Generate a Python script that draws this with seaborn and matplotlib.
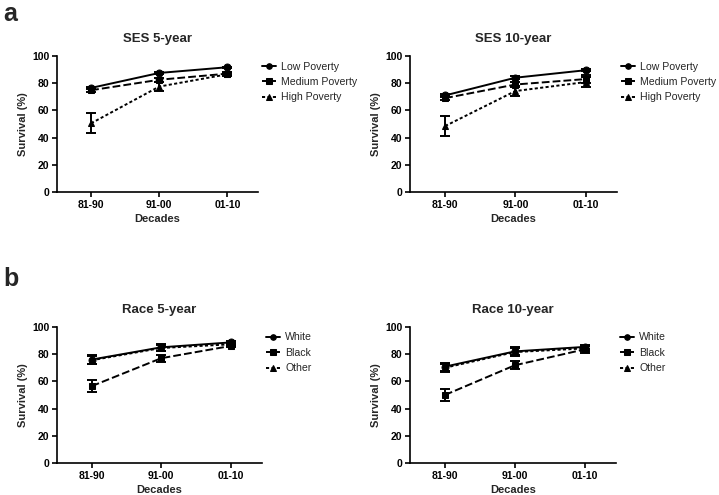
import matplotlib
matplotlib.use("Agg")
import matplotlib.pyplot as plt
import numpy as np
import pandas as pd
import seaborn as sns

DECADES = ["81-90", "91-00", "01-10"]

SES_GROUPS = ["Low Poverty", "Medium Poverty", "High Poverty"]
RACE_GROUPS = ["White", "Black", "Other"]

# SES 5-year survival (%) and error
SES5_LOW = [76.5, 87.5, 91.7]
SES5_MED = [74.8, 82.5, 87.0]
SES5_HIGH = [50.5, 77.5, 86.5]
SES5_LOW_ERR = [1.0, 1.0, 0.5]
SES5_MED_ERR = [1.5, 1.5, 1.2]
SES5_HIGH_ERR = [7.4, 3.0, 1.0]

# SES 10-year
SES10_LOW = [71.0, 84.0, 89.5]
SES10_MED = [69.0, 79.0, 83.0]
SES10_HIGH = [48.5, 74.2, 80.8]
SES10_LOW_ERR = [1.0, 1.0, 0.8]
SES10_MED_ERR = [1.5, 2.0, 3.0]
SES10_HIGH_ERR = [7.6, 3.5, 3.5]

# Race 5-year
RACE5_WHITE = [76.0, 85.0, 88.6]
RACE5_BLACK = [56.5, 77.0, 86.0]
RACE5_OTHER = [75.5, 84.5, 87.2]
RACE5_WHITE_ERR = [3.0, 2.5, 1.0]
RACE5_BLACK_ERR = [4.5, 2.5, 1.0]
RACE5_OTHER_ERR = [3.0, 2.5, 1.0]

# Race 10-year
RACE10_WHITE = [70.8, 82.0, 85.3]
RACE10_BLACK = [50.0, 71.8, 83.5]
RACE10_OTHER = [70.0, 81.5, 84.2]
RACE10_WHITE_ERR = [3.0, 3.0, 1.5]
RACE10_BLACK_ERR = [4.5, 3.0, 2.5]
RACE10_OTHER_ERR = [3.0, 3.0, 2.0]

MARKERS = ["o", "s", "^"]
DASHES = ["", (4, 1.6), (1.6, 1.2)]


def make_frame(groups, values, errors):
    rows = []
    for group, vals, errs in zip(groups, values, errors):
        for decade, v, e in zip(DECADES, vals, errs):
            rows.append({"decade": decade, "survival": v, "err": e, "group": group})
    return pd.DataFrame(rows)


def draw_panel(ax, title, groups, values, errors):
    df = make_frame(groups, values, errors)
    sns.lineplot(
        data=df, x="decade", y="survival", style="group",
        style_order=groups,
        markers=dict(zip(groups, MARKERS)),
        dashes=dict(zip(groups, DASHES)),
        color="black", linewidth=1.4, markersize=5,
        markeredgecolor="black", ax=ax,
    )
    for group in groups:
        sub = df[df["group"] == group]
        ax.errorbar(sub["decade"], sub["survival"], yerr=sub["err"],
                    fmt="none", ecolor="black", elinewidth=1.4,
                    capsize=3.8, capthick=1.4)

    ax.set_xlim(-0.5, 2.45)
    ax.set_ylim(0, 100)
    ax.set_yticks(np.arange(0, 101, 20))
    ax.set_title(title, fontsize=9.5, fontweight="bold", pad=10)
    ax.set_xlabel("Decades", fontsize=8, fontweight="bold", labelpad=3)
    ax.set_ylabel("Survival (%)", fontsize=8, fontweight="bold", labelpad=3)
    for lab in ax.get_xticklabels() + ax.get_yticklabels():
        lab.set_fontweight("bold")
    ax.tick_params(axis="both", direction="out", length=3.5, width=1.2,
                   labelsize=7.5, pad=2, colors="black")
    sns.despine(ax=ax)
    for side in ["left", "bottom"]:
        ax.spines[side].set_linewidth(1.2)
        ax.spines[side].set_color("black")
    ax.grid(False)
    sns.move_legend(ax, "upper left", bbox_to_anchor=(1.0, 0.99), title=None,
                    frameon=False, fontsize=7.6, handlelength=1.3,
                    handletextpad=0.5, labelspacing=0.52, borderaxespad=0,
                    markerscale=0.8)


def main() -> None:
    sns.set_theme(style="ticks")
    plt.rcParams["font.family"] = ["Liberation Sans", "DejaVu Sans"]

    fig = plt.figure(figsize=(7.19, 4.95), dpi=100)
    ax_a1 = fig.add_axes([0.0793, 0.612, 0.2796, 0.275])
    ax_a2 = fig.add_axes([0.5703, 0.612, 0.2880, 0.275])
    ax_b1 = fig.add_axes([0.0793, 0.0646, 0.2850, 0.275])
    ax_b2 = fig.add_axes([0.5703, 0.0646, 0.2865, 0.275])

    draw_panel(ax_a1, "SES 5-year", SES_GROUPS,
               [SES5_LOW, SES5_MED, SES5_HIGH],
               [SES5_LOW_ERR, SES5_MED_ERR, SES5_HIGH_ERR])
    draw_panel(ax_a2, "SES 10-year", SES_GROUPS,
               [SES10_LOW, SES10_MED, SES10_HIGH],
               [SES10_LOW_ERR, SES10_MED_ERR, SES10_HIGH_ERR])
    draw_panel(ax_b1, "Race 5-year", RACE_GROUPS,
               [RACE5_WHITE, RACE5_BLACK, RACE5_OTHER],
               [RACE5_WHITE_ERR, RACE5_BLACK_ERR, RACE5_OTHER_ERR])
    draw_panel(ax_b2, "Race 10-year", RACE_GROUPS,
               [RACE10_WHITE, RACE10_BLACK, RACE10_OTHER],
               [RACE10_WHITE_ERR, RACE10_BLACK_ERR, RACE10_OTHER_ERR])

    fig.text(0.004, 0.995, "a", fontsize=18, fontweight="bold", va="top", ha="left")
    fig.text(0.004, 0.46, "b", fontsize=18, fontweight="bold", va="top", ha="left")

    fig.savefig("out.png", dpi=100)
    plt.close(fig)


if __name__ == "__main__":
    main()
